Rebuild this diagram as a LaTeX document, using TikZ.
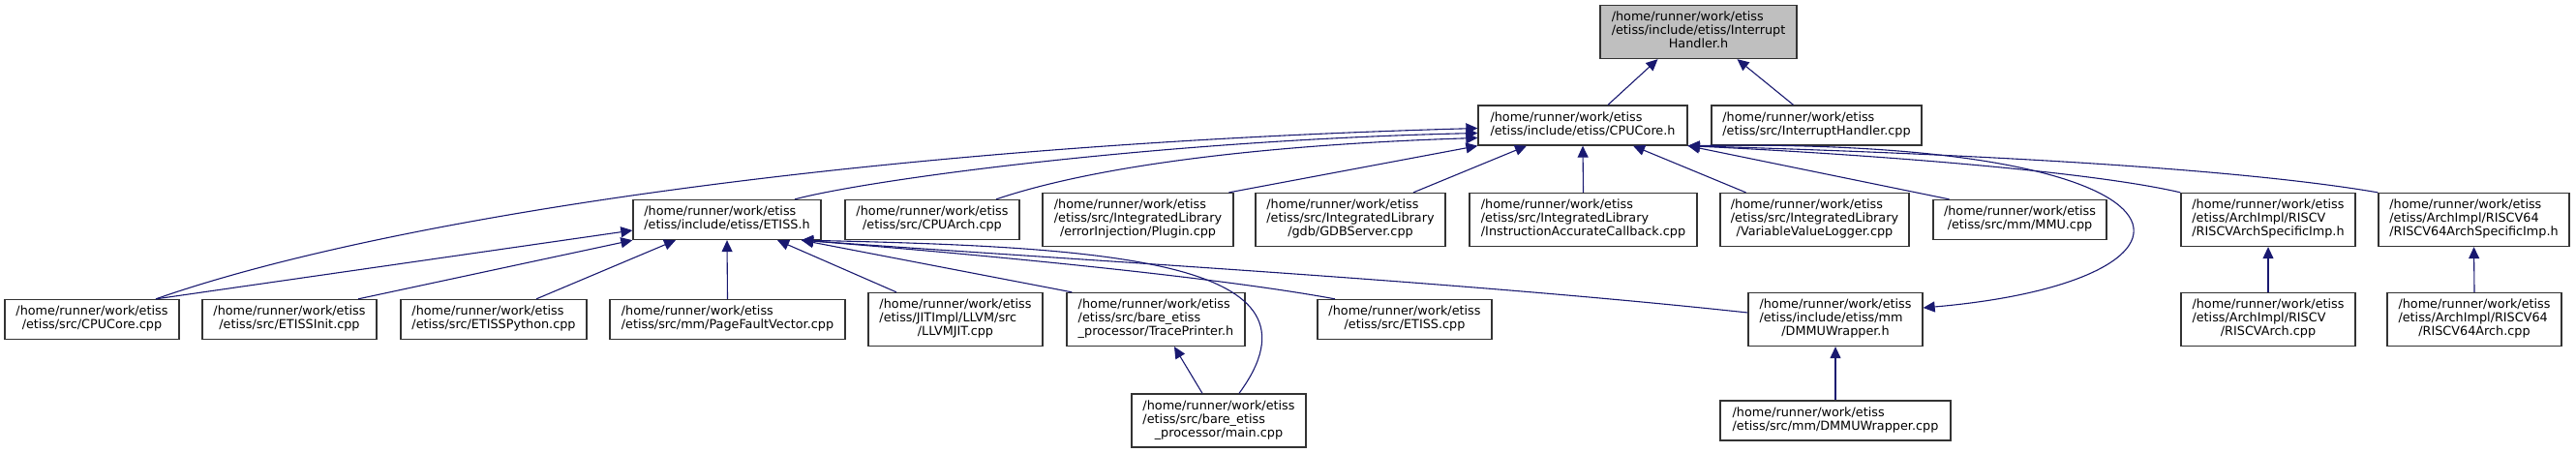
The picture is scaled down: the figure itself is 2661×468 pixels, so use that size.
\documentclass[tikz,border=0pt]{standalone}
\usepackage{fontspec}
\setmainfont{DejaVu Sans}
\usetikzlibrary{arrows.meta}

\definecolor{edgeblue}{HTML}{191970}
\definecolor{rootgray}{HTML}{BFBFBF}

% lines left-aligned, last line centred
\newcommand{\flabel}[2]{\begin{tabular}{@{}l@{}}#1\\\multicolumn{1}{@{}c@{}}{#2}\end{tabular}}

\begin{document}
\begin{tikzpicture}[x=1pt, y=-1pt,
    file/.style={draw=black!80, line width=1.3pt, fill=white, inner xsep=4pt, inner ysep=6.5pt,
                 minimum width=#1, font=\fontsize{12.8}{14}\selectfont},
    root/.style={file=#1, fill=rootgray},
    inc/.style={draw=edgeblue, line width=1.1pt, {Triangle[length=12pt,width=11pt]}-}]
    \useasboundingbox (0,0) rectangle (2661,468);

    % top
    \node[root=203pt] (ih_h) at (1754.5,33) {\flabel{/home/runner/work/etiss\\/etiss/include/etiss/Interrupt}{Handler.h}};

    \node[file=216pt] (cpucore_h) at (1635,129.5) {\flabel{/home/runner/work/etiss}{/etiss/include/etiss/CPUCore.h}};
    \node[file=217pt] (ih_cpp) at (1876.5,129.5) {\flabel{/home/runner/work/etiss}{/etiss/src/InterruptHandler.cpp}};

    % second row
    \node[file=194pt] (etiss_h) at (751,227) {\flabel{/home/runner/work/etiss}{/etiss/include/etiss/ETISS.h}};
    \node[file=180pt] (cpuarch) at (963,227) {\flabel{/home/runner/work/etiss}{/etiss/src/CPUArch.cpp}};
    \node[file=197pt] (plugin) at (1175.5,227) {\flabel{/home/runner/work/etiss\\/etiss/src/IntegratedLibrary}{/errorInjection/Plugin.cpp}};
    \node[file=196pt] (gdb) at (1395,227) {\flabel{/home/runner/work/etiss\\/etiss/src/IntegratedLibrary}{/gdb/GDBServer.cpp}};
    \node[file=235pt] (iacb) at (1635.5,227) {\flabel{/home/runner/work/etiss\\/etiss/src/IntegratedLibrary}{/InstructionAccurateCallback.cpp}};
    \node[file=195pt] (vvl) at (1874.5,227) {\flabel{/home/runner/work/etiss\\/etiss/src/IntegratedLibrary}{/VariableValueLogger.cpp}};
    \node[file=179pt] (mmu) at (2086.5,227) {\flabel{/home/runner/work/etiss}{/etiss/src/mm/MMU.cpp}};
    \node[file=180pt] (rvspec) at (2343,227) {\flabel{/home/runner/work/etiss\\/etiss/ArchImpl/RISCV}{/RISCVArchSpecificImp.h}};
    \node[file=197pt] (rv64spec) at (2555.5,227) {\flabel{/home/runner/work/etiss\\/etiss/ArchImpl/RISCV64}{/RISCV64ArchSpecificImp.h}};

    % third row
    \node[file=180pt] (cpucore_cpp) at (95,330) {\flabel{/home/runner/work/etiss}{/etiss/src/CPUCore.cpp}};
    \node[file=180pt] (etissinit) at (299,330) {\flabel{/home/runner/work/etiss}{/etiss/src/ETISSInit.cpp}};
    \node[file=192pt] (etisspy) at (510,330) {\flabel{/home/runner/work/etiss}{/etiss/src/ETISSPython.cpp}};
    \node[file=243pt] (pfv) at (751.5,330) {\flabel{/home/runner/work/etiss}{/etiss/src/mm/PageFaultVector.cpp}};
    \node[file=180pt] (llvmjit) at (987,330) {\flabel{/home/runner/work/etiss\\/etiss/JITImpl/LLVM/src}{/LLVMJIT.cpp}};
    \node[file=184pt] (trace) at (1194,330) {\flabel{/home/runner/work/etiss\\/etiss/src/bare\_etiss}{\_processor/TracePrinter.h}};
    \node[file=180pt] (etiss_cpp) at (1451,330) {\flabel{/home/runner/work/etiss}{/etiss/src/ETISS.cpp}};
    \node[file=180pt] (dmmu_h) at (1896,330) {\flabel{/home/runner/work/etiss\\/etiss/include/etiss/mm}{/DMMUWrapper.h}};
    \node[file=180pt] (rvarch) at (2343,330) {\flabel{/home/runner/work/etiss\\/etiss/ArchImpl/RISCV}{/RISCVArch.cpp}};
    \node[file=180pt] (rv64arch) at (2556,330) {\flabel{/home/runner/work/etiss\\/etiss/ArchImpl/RISCV64}{/RISCV64Arch.cpp}};

    % bottom
    \node[file=180pt] (main) at (1259,434.5) {\flabel{/home/runner/work/etiss\\/etiss/src/bare\_etiss}{\_processor/main.cpp}};
    \node[file=238pt] (dmmu_cpp) at (1896,434.5) {\flabel{/home/runner/work/etiss}{/etiss/src/mm/DMMUWrapper.cpp}};

    % includes of InterruptHandler.h
    \draw[inc] ([xshift=-42pt]ih_h.south) -- ([xshift=26pt]cpucore_h.north);
    \draw[inc] ([xshift=40pt]ih_h.south) -- ([xshift=-24pt]ih_cpp.north);

    % includes of CPUCore.h
    \draw[inc] ([yshift=-3pt]cpucore_h.west) .. controls (900,150) and (400,225) .. ([xshift=66pt]cpucore_cpp.north);
    \draw[inc] ([yshift=-8pt]cpucore_h.west) .. controls (1200,145) and (900,185) .. ([xshift=70pt]etiss_h.north);
    \draw[inc] ([yshift=-13pt]cpucore_h.west) .. controls (1350,148) and (1150,165) .. ([xshift=66pt]cpuarch.north);
    \draw[inc] (cpucore_h.south west) -- ([xshift=94pt]plugin.north);
    \draw[inc] ([xshift=-58pt]cpucore_h.south) -- ([xshift=65pt]gdb.north);
    \draw[inc] (cpucore_h.south) -- (iacb.north);
    \draw[inc] ([xshift=52pt]cpucore_h.south) -- ([xshift=-71pt]vvl.north);
    \draw[inc] (cpucore_h.south east) -- ([xshift=-73pt]mmu.north);
    \draw[inc] (cpucore_h.south east) .. controls (1900,158) and (2150,175) .. (rvspec.north west);
    \draw[inc] (cpucore_h.south east) .. controls (2000,158) and (2300,172) .. (rv64spec.north west);
    \draw[inc] ([yshift=12pt]dmmu_h.east) .. controls (2310,290) and (2300,140) .. (cpucore_h.south east);

    % includes of ETISS.h
    \draw[inc] ([yshift=-11pt]etiss_h.west) -- ([xshift=66pt]cpucore_cpp.north);
    \draw[inc] (etiss_h.south west) -- ([xshift=71pt]etissinit.north);
    \draw[inc] ([xshift=-53pt]etiss_h.south) -- ([xshift=44pt]etisspy.north);
    \draw[inc] (etiss_h.south) -- (pfv.north);
    \draw[inc] ([xshift=52pt]etiss_h.south) -- ([xshift=-61pt]llvmjit.north);
    \draw[inc] ([xshift=77pt]etiss_h.south) -- ([xshift=6pt]trace.north west);
    \draw[inc] ([xshift=77pt]etiss_h.south) .. controls (1150,255) and (1380,270) .. ([xshift=21pt]main.north);
    \draw[inc] ([xshift=77pt]etiss_h.south) .. controls (1000,262) and (1250,285) .. ([xshift=-72pt]etiss_cpp.north);
    \draw[inc] ([xshift=77pt]etiss_h.south) .. controls (1100,268) and (1500,290) .. ([yshift=7pt]dmmu_h.west);

    \draw[inc] ([xshift=19pt]trace.south) -- ([xshift=-17pt]main.north);
    \draw[inc] (dmmu_h.south) -- (dmmu_cpp.north);
    \draw[inc] (rvspec.south) -- (rvarch.north);
    \draw[inc] (rv64spec.south) -- (rv64arch.north);
\end{tikzpicture}
\end{document}
